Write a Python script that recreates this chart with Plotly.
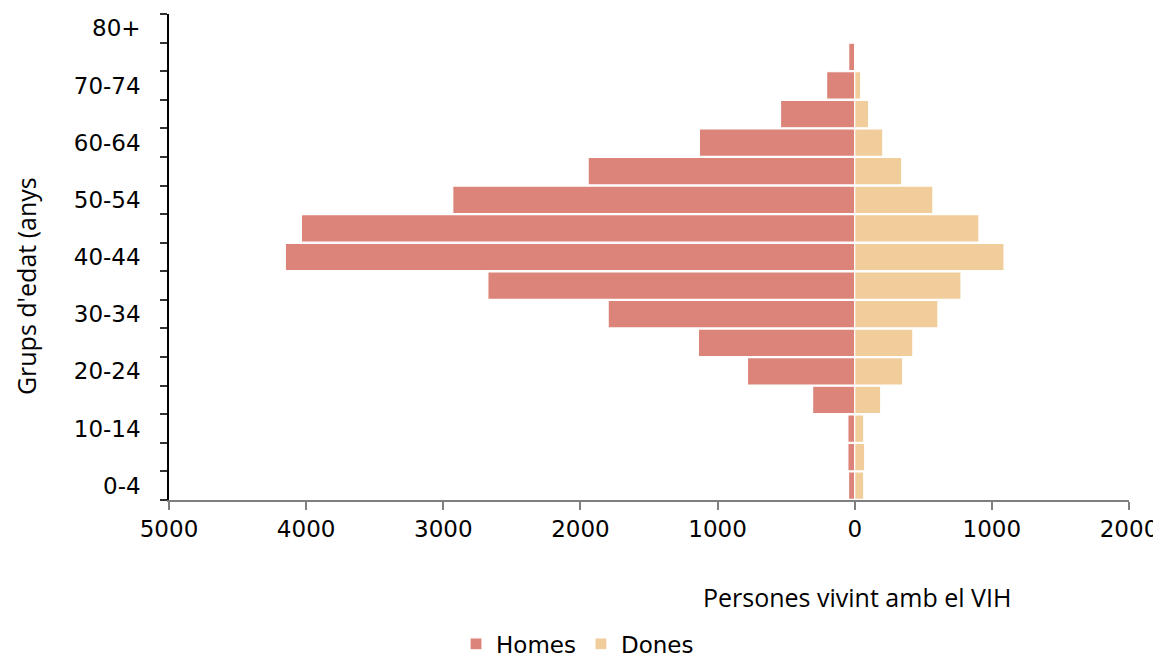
import plotly.graph_objects as go

categories = ["0-4", "5-9", "10-14", "15-19", "20-24", "25-29", "30-34", "35-39",
              "40-44", "45-49", "50-54", "55-59", "60-64", "65-69", "70-74", "75-79", "80+"]
homes = [45, 50, 50, 307, 782, 1140, 1798, 2675, 4152, 4035, 2931, 1944, 1133, 541, 205, 44, 4]
dones = [66, 73, 66, 190, 350, 424, 607, 775, 1089, 906, 570, 343, 205, 102, 44, 0, 0]
x_ticks = [-5000, -4000, -3000, -2000, -1000, 0, 1000, 2000]
x_ticktext = ["5000", "4000", "3000", "2000", "1000", "0", "1000", "2000"]

homes_color = "#dc847a"
dones_color = "#f2cd9c"

fig = go.Figure()
fig.add_trace(go.Bar(
    y=categories, x=[-v for v in homes], orientation="h", name="Homes",
    marker=dict(color=homes_color, line=dict(color="white", width=1.2)),
))
fig.add_trace(go.Bar(
    y=categories, x=dones, orientation="h", name="Dones",
    marker=dict(color=dones_color, line=dict(color="white", width=1.2)),
))

fig.update_layout(
    width=1153, height=652,
    margin=dict(l=161, r=32, t=6, b=160, autoexpand=False),
    plot_bgcolor="white", paper_bgcolor="white",
    barmode="relative", bargap=0.04,
    font=dict(family="DejaVu Sans", size=23, color="#000"),
    showlegend=True,
    legend=dict(orientation="h", x=0.299, xanchor="left", y=-0.296, yanchor="middle",
                font=dict(family="DejaVu Sans", size=23), traceorder="normal", itemclick=False),
    annotations=[
        dict(text="Persones vivint amb el VIH", xref="paper", yref="paper",
             x=0.717, y=-0.2, xanchor="center", yanchor="middle", showarrow=False,
             font=dict(family="Open Sans", size=25, color="#000")),
        dict(text="Grups d'edat (anys", xref="paper", yref="paper",
             x=-0.149, y=0.44, xanchor="center", yanchor="middle", showarrow=False,
             textangle=-90,
             font=dict(family="Open Sans", size=25, color="#000")),
    ],
)
fig.update_xaxes(
    range=[-5000, 2000], tickvals=x_ticks, ticktext=x_ticktext,
    showgrid=False, zeroline=False, showline=True, linecolor="#7f7f7f", linewidth=1.5,
    ticks="outside", ticklen=8, tickcolor="#7f7f7f", tickwidth=1.5,
    tickfont=dict(family="DejaVu Sans", size=23),
)
fig.update_yaxes(
    type="category", categoryorder="array", categoryarray=categories,
    tickson="boundaries", ticklabelstep=2, ticklabelstandoff=22,
    showgrid=False, zeroline=False, showline=True, linecolor="#000", linewidth=1.5,
    ticks="outside", ticklen=7, tickcolor="#333", tickwidth=1.5,
    tickfont=dict(family="DejaVu Sans", size=23),
)

fig.write_html("out.html")
